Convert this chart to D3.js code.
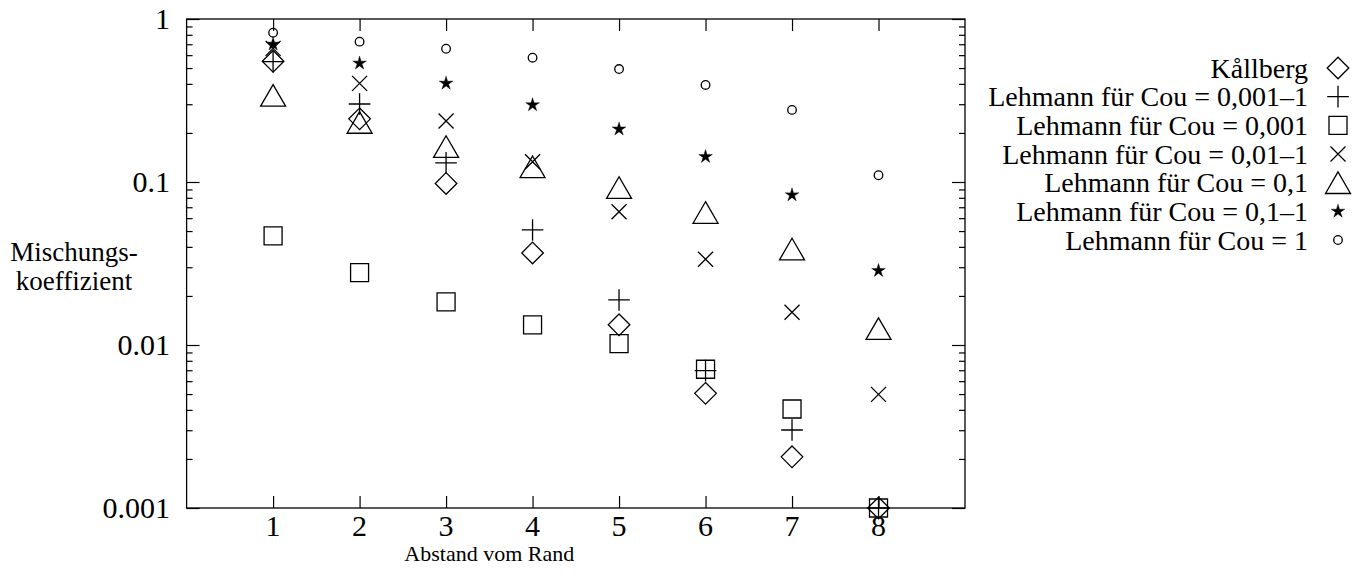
<!DOCTYPE html>
<meta charset="utf-8">
<style>
  body { margin: 0; background: #fff; }
  text { font-family: 'Liberation Serif', serif; fill: #000; }
  .mark { fill: none; stroke: #000; stroke-width: 1.3; }
  .frame { fill: none; stroke: #000; stroke-width: 1.3; }
  .tick line { stroke: #000; stroke-width: 1.2; }
</style>
<body>
<script src="https://cdn.jsdelivr.net/npm/d3@7"></script>
<script>

// distance from the border (x)
var abstand = [1, 2, 3, 4, 5, 6, 7, 8];

// mixing coefficients, one array per series
var kallberg      = [0.55, 0.244, 0.098, 0.0367, 0.0133, 0.00505, 0.00206, 0.001];
var lehmann0011   = [0.547, 0.301, 0.131, 0.0508, 0.0189, 0.00696, 0.00301, 0.001];
var lehmann0001   = [0.0467, 0.0278, 0.0184, 0.0133, 0.0102, 0.0071, 0.00405, 0.001];
var lehmann0101   = [0.66, 0.403, 0.237, 0.133, 0.0657, 0.0336, 0.0159, 0.00498];
var lehmann01     = [0.34, 0.232, 0.165, 0.124, 0.0925, 0.065, 0.0388, 0.0126];
var lehmann011    = [0.70, 0.535, 0.403, 0.297, 0.211, 0.143, 0.0832, 0.0286];
var lehmann1      = [0.824, 0.726, 0.657, 0.579, 0.493, 0.394, 0.277, 0.110];

var seriesNames = [
  "Kållberg",
  "Lehmann für Cou = 0,001–1",
  "Lehmann für Cou = 0,001",
  "Lehmann für Cou = 0,01–1",
  "Lehmann für Cou = 0,1",
  "Lehmann für Cou = 0,1–1",
  "Lehmann für Cou = 1"
];
var seriesValues = [kallberg, lehmann0011, lehmann0001, lehmann0101, lehmann01, lehmann011, lehmann1];
var seriesShapes = ["diamond", "plus", "square", "times", "triangle", "star", "circle"];

var yTicks = [1, 0.1, 0.01, 0.001];
var yTickLabels = ["1", "0.1", "0.01", "0.001"];

// layout (window.top is read-only, so no bare "top" here)
var W = 1365, H = 581;
var plotL = 186.6, plotR = 965, plotT = 19, plotB = 508;

var svg = d3.select("body").append("svg")
    .attr("width", W)
    .attr("height", H);

var x = d3.scaleLinear().domain([0, 9]).range([plotL, plotR]);
var y = d3.scaleLog().domain([0.001, 1]).range([plotB, plotT]);

// marker shapes
function shapePath(s) {
  var p = d3.path();
  if (s === "diamond") {
    var d = 10.8;
    p.moveTo(0, -d); p.lineTo(d, 0); p.lineTo(0, d); p.lineTo(-d, 0); p.closePath();
  } else if (s === "plus") {
    var a = 10.8;
    p.moveTo(-a, 0); p.lineTo(a, 0); p.moveTo(0, -a); p.lineTo(0, a);
  } else if (s === "square") {
    p.rect(-9, -9, 18, 18);
  } else if (s === "times") {
    var t = 7.5;
    p.moveTo(-t, -t); p.lineTo(t, t); p.moveTo(-t, t); p.lineTo(t, -t);
  } else if (s === "triangle") {
    p.moveTo(0, -10.8); p.lineTo(12.5, 10.8); p.lineTo(-12.5, 10.8); p.closePath();
  } else if (s === "star") {
    for (var i = 0; i < 10; i++) {
      var r = i % 2 === 0 ? 7.2 : 2.6;
      var ang = -Math.PI / 2 + i * Math.PI / 5;
      if (i === 0) p.moveTo(r * Math.cos(ang), r * Math.sin(ang));
      else p.lineTo(r * Math.cos(ang), r * Math.sin(ang));
    }
    p.closePath();
  } else if (s === "circle") {
    p.moveTo(4.3, 0); p.arc(0, 0, 4.3, 0, 2 * Math.PI);
  }
  return p.toString();
}

function markStyle(sel, shape) {
  sel.attr("class", "mark")
     .attr("d", shapePath(shape))
     .style("fill", shape === "star" ? "#000" : "none")
     .style("stroke-width", shape === "star" ? 0.4 : null);
}

// axes: ticks drawn inward on all four sides
var minor = [];
[0.001, 0.01, 0.1].forEach(function(dec) {
  for (var k = 2; k <= 9; k++) minor.push(dec * k);
});

function noDomain(g) { g.select(".domain").remove(); }

svg.append("g")
    .attr("transform", "translate(" + plotL + ",0)")
    .call(d3.axisRight(y).tickValues(yTicks).tickSize(13).tickFormat(""))
    .call(noDomain);
svg.append("g")
    .attr("transform", "translate(" + plotL + ",0)")
    .call(d3.axisRight(y).tickValues(minor).tickSize(6).tickFormat(""))
    .call(noDomain);
svg.append("g")
    .attr("transform", "translate(" + plotR + ",0)")
    .call(d3.axisLeft(y).tickValues(yTicks).tickSize(13).tickFormat(""))
    .call(noDomain);
svg.append("g")
    .attr("transform", "translate(" + plotR + ",0)")
    .call(d3.axisLeft(y).tickValues(minor).tickSize(6).tickFormat(""))
    .call(noDomain);
svg.append("g")
    .attr("transform", "translate(0," + plotB + ")")
    .call(d3.axisTop(x).tickValues(abstand).tickSize(12).tickFormat(""))
    .call(noDomain);
svg.append("g")
    .attr("transform", "translate(0," + plotT + ")")
    .call(d3.axisBottom(x).tickValues(abstand).tickSize(12).tickFormat(""))
    .call(noDomain);

svg.append("rect")
    .attr("class", "frame")
    .attr("x", plotL)
    .attr("y", plotT)
    .attr("width", plotR - plotL)
    .attr("height", plotB - plotT);

// tick labels
svg.selectAll(".ylab")
    .data(yTicks)
  .enter().append("text")
    .attr("class", "ylab")
    .attr("x", 170)
    .attr("y", function(d) { return y(d); })
    .attr("dy", "0.34em")
    .attr("text-anchor", "end")
    .attr("font-size", "30px")
    .text(function(d, i) { return yTickLabels[i]; });

svg.selectAll(".xlab")
    .data(abstand)
  .enter().append("text")
    .attr("class", "xlab")
    .attr("x", function(d) { return x(d); })
    .attr("y", 536)
    .attr("text-anchor", "middle")
    .attr("font-size", "30px")
    .text(function(d) { return d; });

// axis titles
svg.append("text")
    .attr("x", x(3.5))
    .attr("y", 561)
    .attr("text-anchor", "middle")
    .attr("font-size", "22px")
    .text("Abstand vom Rand");

var ytitle = svg.append("text")
    .attr("text-anchor", "middle")
    .attr("font-size", "27px");
ytitle.append("tspan").attr("x", 74).attr("y", 261).text("Mischungs-");
ytitle.append("tspan").attr("x", 74).attr("y", 290).text("koeffizient");

// data points
seriesValues.forEach(function(vals, si) {
  var shape = seriesShapes[si];
  svg.append("g").selectAll("path")
      .data(vals)
    .enter().append("path")
      .call(markStyle, shape)
      .attr("transform", function(d, i) {
        return "translate(" + x(abstand[i]) + "," + y(d) + ")";
      });
});

// legend
var legend = svg.append("g");
seriesNames.forEach(function(name, i) {
  var ly = 68 + i * 28.67;
  legend.append("text")
      .attr("x", 1308)
      .attr("y", ly)
      .attr("dy", "0.34em")
      .attr("text-anchor", "end")
      .attr("font-size", "28px")
      .text(name);
  legend.append("path")
      .call(markStyle, seriesShapes[i])
      .attr("transform", "translate(1338," + ly + ")");
});

</script>
</body>
